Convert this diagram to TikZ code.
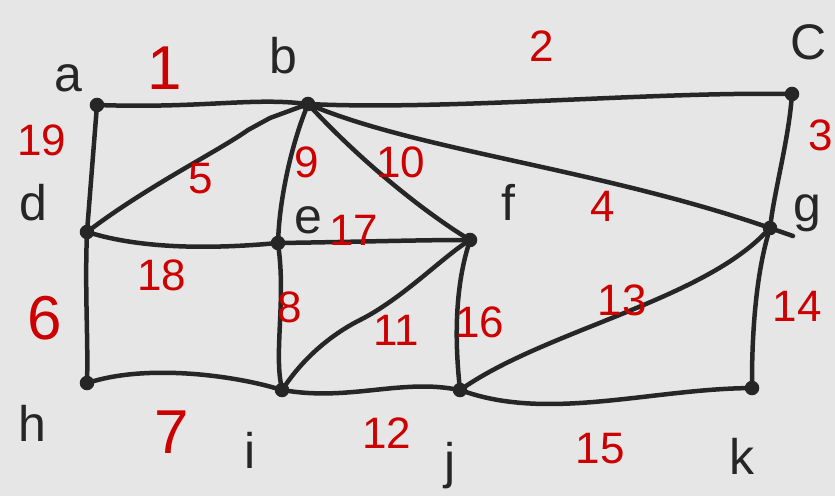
\documentclass[tikz,border=0pt]{standalone}
\usepackage{fontspec}
\setmainfont{Liberation Sans}
\definecolor{bg}{HTML}{E6E6E6}
\definecolor{ink}{HTML}{262626}
\definecolor{rd}{HTML}{CC0000}
\tikzset{
  vtx/.style={circle,draw=ink,fill=ink,line width=1.5pt,inner sep=0pt,minimum size=13pt},
  edg/.style={draw=ink,line width=4.5pt,line cap=round,line join=round},
  lbl/.style={text=ink,font=\fontsize{50}{50}\selectfont,inner sep=0pt},
  num/.style={text=rd,font=\fontsize{44}{44}\selectfont,inner sep=0pt},
  bignum/.style={text=rd,font=\fontsize{62}{62}\selectfont,inner sep=0pt}
}
\begin{document}
\begin{tikzpicture}[x=1pt,y=-1pt]
\fill[bg] (0,0) rectangle (835,496);
\useasboundingbox (0,0) rectangle (835,496);
% vertices
\node[vtx] (a) at (97,105) {};
\node[vtx] (b) at (308,104) {};
\node[vtx] (c) at (792,94) {};
\node[vtx] (d) at (87,232) {};
\node[vtx] (e) at (278,243) {};
\node[vtx] (f) at (470,240) {};
\node[vtx] (g) at (770,228) {};
\node[vtx] (h) at (87,383) {};
\node[vtx] (i) at (282,390) {};
\node[vtx] (j) at (460,390) {};
\node[vtx] (k) at (752,388) {};
\coordinate (gx) at (793,236);
% vertex labels
\node[lbl] (la) at (68,78) {a};
\node[lbl] (lb) at (283,56) {b};
\node[lbl] (lc) at (809,42) {C};
\node[lbl] (ld) at (33,203) {d};
\node[lbl] (le) at (308,220) {e};
\node[lbl] (lf) at (508,202) {f};
\node[lbl] (lg) at (807,213) {g};
\node[lbl] (lh) at (32,423) {h};
\node[lbl] (li) at (250,450) {i};
\node[lbl] (lj) at (450,466) {j};
\node[lbl] (lk) at (742,456) {k};
% edges
\draw[edg] (a) .. controls (200,108) and (250,98) .. (b);
\draw[edg] (b) .. controls (450,110) and (650,92) .. (c);
\draw[edg] (c) .. controls (788,140) and (775,190) .. (g);
\draw[edg] (b) .. controls (420,150) and (600,170) .. (g) -- (gx);
\draw[edg] (d) .. controls (150,185) and (220,150) .. (248,130) -- (270,118) -- (b);
\draw[edg] (a) -- (d);
\draw[edg] (d) .. controls (85,290) and (88,340) .. (h);
\draw[edg] (h) .. controls (150,365) and (230,375) .. (i);
\draw[edg] (b) .. controls (290,150) and (280,200) .. (e);
\draw[edg] (b) .. controls (370,170) and (430,215) .. (f);
\draw[edg] (d) .. controls (150,250) and (220,248) .. (e);
\draw[edg] (e) .. controls (350,242) and (420,240) .. (f);
\draw[edg] (e) .. controls (285,300) and (275,350) .. (i);
\draw[edg] (i) .. controls (310,350) and (340,330) .. (360,320) .. controls (400,300) and (440,260) .. (f);
\draw[edg] (f) .. controls (455,290) and (455,340) .. (j);
\draw[edg] (i) .. controls (350,400) and (400,380) .. (j);
\draw[edg] (j) .. controls (550,330) and (700,300) .. (g);
\draw[edg] (g) .. controls (755,280) and (752,340) .. (k);
\draw[edg] (j) .. controls (550,420) and (650,390) .. (k);
% edge weights
\node[bignum] (w1) at (165,68) {1};
\node[num] (w2) at (542,46) {2};
\node[num] (w3) at (821,135) {3};
\node[num] (w4) at (603,206) {4};
\node[num] (w5) at (201,179) {5};
\node[bignum] (w6) at (45,318) {6};
\node[bignum] (w7) at (172,432) {7};
\node[num] (w8) at (290,307) {8};
\node[num] (w9) at (307,162) {9};
\node[num] (w10) at (401,162) {10};
\node[num] (w11) at (396,330) {11};
\node[num] (w12) at (387,433) {12};
\node[num] (w13) at (622,300) {13};
\node[num] (w14) at (797,306) {14};
\node[num] (w15) at (600,449) {15};
\node[num] (w16) at (480,322) {16};
\node[num] (w17) at (354,230) {17};
\node[num] (w18) at (162,275) {18};
\node[num] (w19) at (42,140) {19};
\end{tikzpicture}
\end{document}
